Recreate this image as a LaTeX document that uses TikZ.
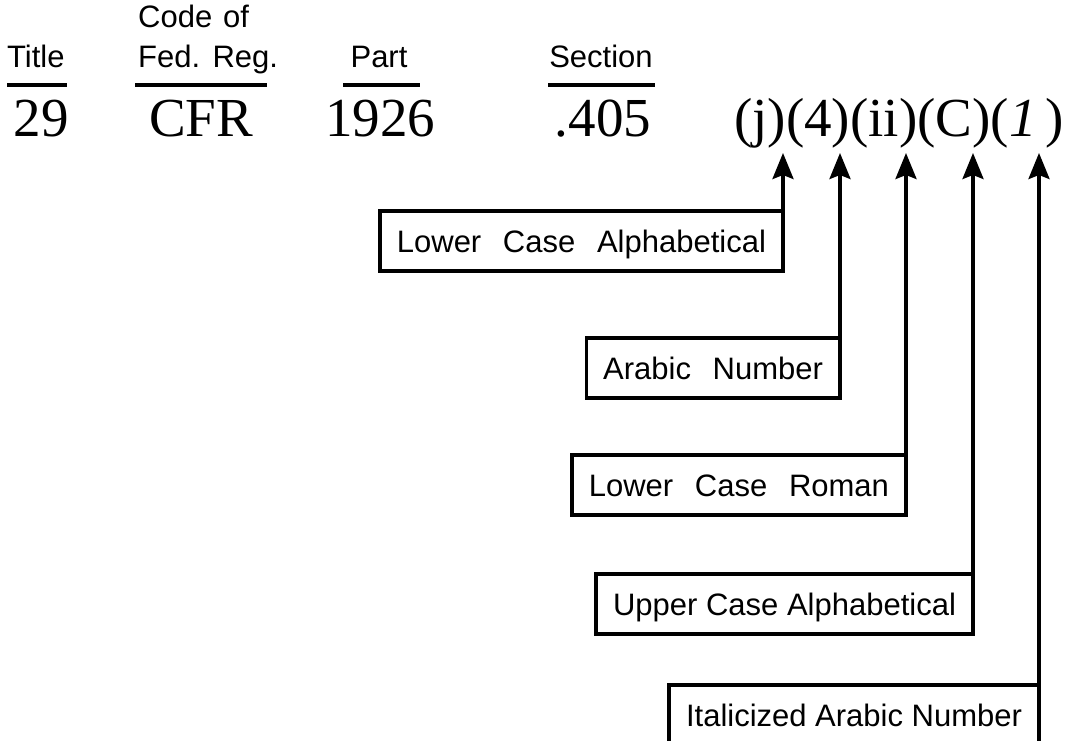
\documentclass[tikz,border=0pt]{standalone}
\usepackage{fontspec}
\setmainfont{Liberation Serif}
\newfontfamily\lsans{Liberation Sans}
\usetikzlibrary{arrows.meta}
\begin{document}
\begin{tikzpicture}[x=1pt,y=-1pt,
  lab/.style={font=\lsans\fontsize{31}{31}\selectfont, inner sep=0pt},
  num/.style={font=\fontsize{55}{55}\selectfont, inner sep=0pt},
  rule/.style={line width=4pt},
  lbox/.style={draw, line width=3.3pt, font=\lsans\fontsize{31}{31}\selectfont,
    inner xsep=17pt, inner ysep=0pt, text height=22pt, text depth=0pt,
    minimum height=60pt, outer sep=0pt, anchor=north east},
  arr/.style={line width=3.3pt, -{Stealth[length=26pt,width=21pt,inset=4pt]}}]
\clip (0,0) rectangle (1074,740);
% header labels
\node[lab, anchor=base west] (lt) at (7,67) {Title};
\node[lab, anchor=base west] (lc1) at (138,27) {Code\hspace{0.35em}of};
\node[lab, anchor=base west] (lc2) at (138,67) {Fed.\hspace{0.4em}Reg.};
\node[lab, anchor=base] (lp) at (379,67) {Part};
\node[lab, anchor=base] (ls) at (601,67) {Section};
% underlines
\draw[rule] (7,85) -- (67,85);
\draw[rule] (135,85) -- (267,85);
\draw[rule] (343,85) -- (420,85);
\draw[rule] (548,85) -- (655,85);
% numbers
\node[num, anchor=base] (n1) at (41,136) {29};
\node[num, anchor=base] (n2) at (201,136) {CFR};
\node[num, anchor=base] (n3) at (380,136) {1926};
\node[num, anchor=base] (n4) at (603,136) {.405};
\node[num, anchor=base west] (cit) at (734,136) {(j)(4)(ii)(C)(\textit{1}\,)};
% arrow tips
\coordinate (t1) at (783,153);
\coordinate (t2) at (840,153);
\coordinate (t3) at (906,153);
\coordinate (t4) at (973,153);
\coordinate (t5) at (1039,153);
% boxes
\node[lbox] (b1) at (783,211) {Lower\hspace{0.7em}Case\hspace{0.7em}Alphabetical};
\node[lbox] (b2) at (840,338) {Arabic\hspace{0.7em}Number};
\node[lbox] (b3) at (906,455) {Lower\hspace{0.7em}Case\hspace{0.7em}Roman};
\node[lbox] (b4) at (973,574) {Upper Case Alphabetical};
\node[lbox] (b5) at (1039,685) {Italicized Arabic Number};
% arrows
\draw[arr] (b1.north east) -- (t1);
\draw[arr] (b2.north east) -- (t2);
\draw[arr] (b3.north east) -- (t3);
\draw[arr] (b4.north east) -- (t4);
\draw[arr] (b5.north east) -- (t5);
\end{tikzpicture}
\end{document}
